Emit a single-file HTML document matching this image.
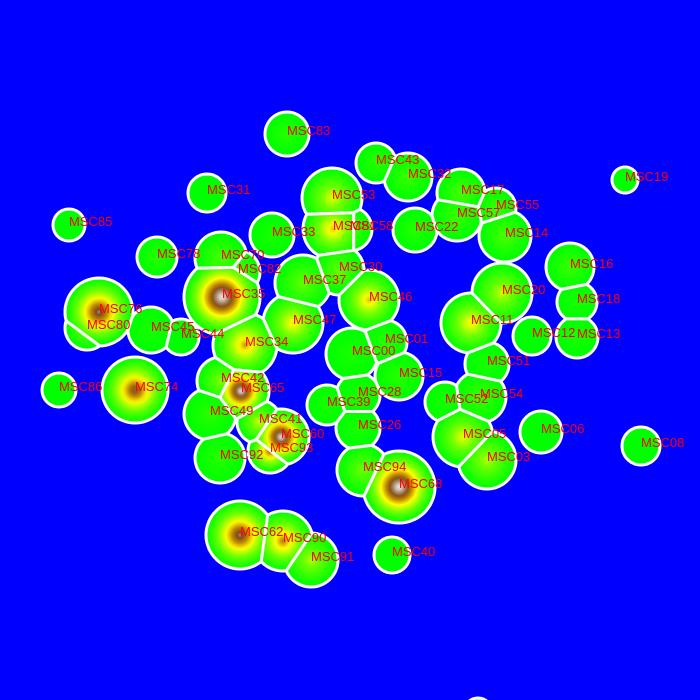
<!DOCTYPE html>
<html><head><meta charset="utf-8"><style>
html,body{margin:0;padding:0;background:#0000ff;width:700px;height:700px;overflow:hidden}
svg{display:block}
text{font-family:"Liberation Sans",sans-serif;font-size:13px;fill:#ff0000}
</style></head><body>
<svg id="chart" width="700" height="700" viewBox="0 0 700 700">
<rect width="700" height="700" fill="#0000ff"/>
<defs id="defs"></defs>
<g id="cells"></g>
<g id="labels"></g>
</svg>
<script>
const names=["MSC83","MSC43","MSC32","MSC19","MSC31","MSC53","MSC17","MSC55","MSC57","MSC14","MSC22","MSC85","MSC33","MSC81","MSC58","MSC78","MSC70","MSC82","MSC35","MSC37","MSC30","MSC46","MSC76","MSC80","MSC45","MSC44","MSC47","MSC34","MSC00","MSC01","MSC20","MSC11","MSC16","MSC18","MSC12","MSC13","MSC51","MSC15","MSC86","MSC74","MSC42","MSC65","MSC39","MSC28","MSC52","MSC54","MSC49","MSC41","MSC60","MSC93","MSC92","MSC26","MSC05","MSC03","MSC06","MSC08","MSC94","MSC68","MSC62","MSC90","MSC91","MSC40","MSC07"];
const xs=[287,376,408,625,207,332,461,496,457,505,415,69,272,333,350,157,221,238,222,303,339,369,99,87,151,181,293,245,352,385,502,471,570,577,532,577,487,399,59,135,221,241,327,358,445,480,210,259,281,270,220,358,463,487,541,641,363,399,240,283,311,392,478];
const ys=[134,163,177,180,193,198,193,208,216,236,230,225,235,229,229,257,258,272,297,283,270,300,312,328,330,337,323,345,354,342,293,323,267,302,336,337,364,376,390,390,381,391,405,395,402,397,414,422,437,451,458,428,437,460,432,446,470,487,535,541,560,555,712];
const radii=[22,20,24,13,19,30,24,20,25,26,22,16,22,30,22,20,26,22,38,28,25,30,34,22,23,18,30,32,26,22,30,30,24,20,19,21,22,24,17,33,24,28,20,22,20,26,26,22,28,22,25,22,30,29,21,19,26,36,34,30,27,18,14];
const intensities=[0.08,0.08,0.12,0,0,0.38,0.15,0.12,0.12,0.15,0.08,0,0.05,0.5,0.15,0.08,0.15,0.15,1.0,0.2,0.2,0.5,0.8,0.25,0.05,0,0.45,0.55,0.05,0.08,0.35,0.45,0.12,0.05,0,0.05,0.05,0.08,0,0.75,0.25,0.95,0.05,0.05,0.05,0.12,0.08,0.35,0.95,0.65,0.08,0.05,0.4,0.32,0,0,0.22,1.0,0.8,0.6,0.32,0,0];

const NS="http://www.w3.org/2000/svg";
const cmap=[[0,[0,255,0]],[0.22,[110,255,0]],[0.42,[255,255,0]],[0.58,[190,130,0]],[0.72,[125,75,30]],[0.86,[200,180,165]],[1,[235,230,225]]];
function col(v){for(let k=1;k<cmap.length;k++){if(v<=cmap[k][0]){const a=cmap[k-1],b=cmap[k];const t=(v-a[0])/(b[0]-a[0]);return 'rgb('+a[1].map((c,i)=>Math.round(c+(b[1][i]-c)*t)).join(',')+')';}}return 'rgb(235,230,225)';}
function clip(poly,a,b,c){
  const out=[];for(let i=0;i<poly.length;i++){const P=poly[i],Q=poly[(i+1)%poly.length];const fp=a*P[0]+b*P[1]-c,fq=a*Q[0]+b*Q[1]-c;
  if(fp<=0)out.push(P);if((fp<0&&fq>0)||(fp>0&&fq<0)){const t=fp/(fp-fq);out.push([P[0]+(Q[0]-P[0])*t,P[1]+(Q[1]-P[1])*t]);}}return out;}
const defs=document.getElementById('defs'),cells=document.getElementById('cells'),labels=document.getElementById('labels');
const n=names.length;
for(let i=0;i<n;i++){
  const g=document.createElementNS(NS,'radialGradient');g.setAttribute('id','g'+i);g.setAttribute('gradientUnits','userSpaceOnUse');
  g.setAttribute('cx',xs[i]);g.setAttribute('cy',ys[i]);g.setAttribute('r',radii[i]);
  for(let s=0;s<=12;s++){const o=s/12;const st=document.createElementNS(NS,'stop');st.setAttribute('offset',o);st.setAttribute('stop-color',col(intensities[i]*Math.pow(1-o,1.25)));g.appendChild(st);}
  defs.appendChild(g);
  let poly=[];for(let k=0;k<72;k++){const a=k/72*2*Math.PI;poly.push([xs[i]+radii[i]*Math.cos(a),ys[i]+radii[i]*Math.sin(a)]);}
  for(let j=0;j<n;j++){if(j===i)continue;const dx=xs[j]-xs[i],dy=ys[j]-ys[i];if(Math.hypot(dx,dy)>=radii[i]+radii[j])continue;
    const c=(xs[j]*xs[j]+ys[j]*ys[j]-radii[j]*radii[j]-(xs[i]*xs[i]+ys[i]*ys[i]-radii[i]*radii[i]))/2;poly=clip(poly,dx,dy,c);if(!poly.length)break;}
  if(!poly.length)continue;
  const p=document.createElementNS(NS,'polygon');
  p.setAttribute('points',poly.map(q=>q[0].toFixed(1)+','+q[1].toFixed(1)).join(' '));
  p.setAttribute('fill','url(#g'+i+')');p.setAttribute('stroke','#ffffff');p.setAttribute('stroke-width','3');p.setAttribute('stroke-linejoin','round');
  
  
  cells.appendChild(p);
}
for(let i=0;i<n;i++){
  const t=document.createElementNS(NS,'text');t.setAttribute('x',xs[i]);t.setAttribute('y',ys[i]+1);t.textContent=names[i];
  
  
  labels.appendChild(t);
}
</script>
</body></html>
